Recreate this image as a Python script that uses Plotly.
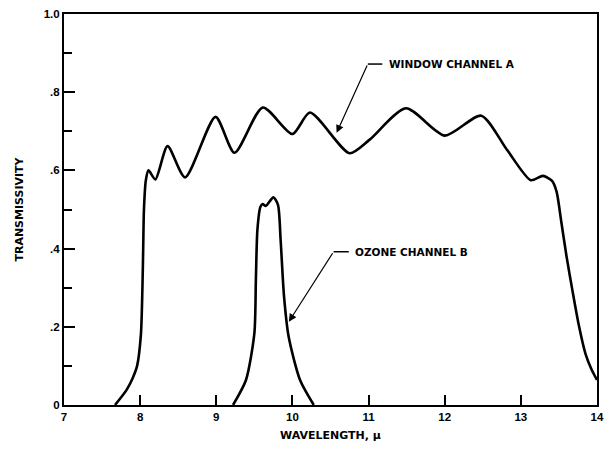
import plotly.graph_objects as go

# Window channel A
a_wavelength = [7.67, 7.82, 7.90, 7.96, 8.01, 8.03, 8.04, 8.05, 8.075, 8.11, 8.20, 8.36, 8.59,
                8.99, 9.24, 9.61, 10.0, 10.23, 10.75, 11.01, 11.49, 12.0, 12.48, 12.82, 13.13,
                13.29, 13.41, 13.47, 13.53, 13.60, 13.68, 13.76, 13.85, 13.93, 14.0]
a_trans = [0.0, 0.038, 0.068, 0.100, 0.18, 0.30, 0.40, 0.50, 0.575, 0.60, 0.577, 0.662, 0.582,
           0.737, 0.645, 0.761, 0.693, 0.748, 0.644, 0.678, 0.759, 0.689, 0.740, 0.652, 0.575,
           0.586, 0.573, 0.545, 0.470, 0.380, 0.290, 0.205, 0.130, 0.090, 0.064]

# Ozone channel B
b_wavelength = [9.22, 9.39, 9.50, 9.52, 9.54, 9.58, 9.61, 9.65, 9.75, 9.81, 9.845, 9.89, 9.95, 10.10, 10.28]
b_trans = [0.0, 0.064, 0.183, 0.32, 0.448, 0.507, 0.514, 0.509, 0.531, 0.512, 0.422, 0.277, 0.175, 0.064, 0.0]

y_tickvals = [0, 0.2, 0.4, 0.6, 0.8, 1.0]
y_ticktext = ["0", ".2", ".4", ".6", ".8", "1.0"]
y_minor = [0.1, 0.3, 0.5, 0.7, 0.9]
x_tickvals = [7, 8, 9, 10, 11, 12, 13, 14]

# labels: (text, arrow tip x, tip y, bend x, bend y, leader end x)
labels = [
    ("WINDOW CHANNEL A", 10.58, 0.696, 10.99, 0.872, 11.18),
    ("OZONE CHANNEL B", 9.953, 0.213, 10.54, 0.392, 10.74),
]

fig = go.Figure()
line_style = dict(color="black", width=2.6, shape="spline", smoothing=0.7)
fig.add_trace(go.Scatter(x=a_wavelength, y=a_trans, mode="lines", line=line_style, showlegend=False))
fig.add_trace(go.Scatter(x=b_wavelength, y=b_trans, mode="lines", line=line_style, showlegend=False))

label_font = dict(family="DejaVu Sans", size=10.5, color="black", weight="bold")
for text, tx, ty, bx, by, lx in labels:
    fig.add_annotation(x=tx, y=ty, ax=bx, ay=by, xref="x", yref="y", axref="x", ayref="y",
                       text="", showarrow=True, arrowhead=2, arrowsize=1.3, arrowwidth=1.2,
                       arrowcolor="black")
    fig.add_shape(type="line", x0=bx, y0=by, x1=lx, y1=by, xref="x", yref="y",
                  line=dict(color="black", width=1.5))
    fig.add_annotation(x=lx + 0.06, y=by, xref="x", yref="y", text=text,
                       showarrow=False, xanchor="left", yanchor="middle", font=label_font)

tick_font = dict(family="Liberation Sans", size=11.5, color="black", weight="bold")
title_font = dict(family="DejaVu Sans", size=11, color="black", weight="bold")

fig.update_layout(
    width=611, height=452,
    margin=dict(l=64, r=7, t=14, b=47),
    paper_bgcolor="white", plot_bgcolor="white",
    font=dict(family="Liberation Sans", size=12, color="black"),
)
fig.update_xaxes(
    range=[7, 14], tickvals=x_tickvals, ticks="inside", ticklen=10, tickwidth=1.5,
    tickcolor="black", showline=True, linecolor="black", linewidth=2, mirror=True,
    showgrid=False, zeroline=False,
    title=dict(text="WAVELENGTH, μ", font=title_font, standoff=10),
    tickfont=tick_font,
)
fig.update_yaxes(
    range=[0, 1.0], tickvals=y_tickvals, ticktext=y_ticktext, ticks="inside", ticklen=11,
    tickwidth=1.5, tickcolor="black", showline=True, linecolor="black", linewidth=2, mirror=True,
    showgrid=False, zeroline=False,
    minor=dict(tickvals=y_minor, ticks="inside", ticklen=8, tickwidth=1.5, tickcolor="black"),
    title=dict(text="TRANSMISSIVITY", font=title_font, standoff=18),
    tickfont=tick_font,
)

fig.write_html("out.html")
